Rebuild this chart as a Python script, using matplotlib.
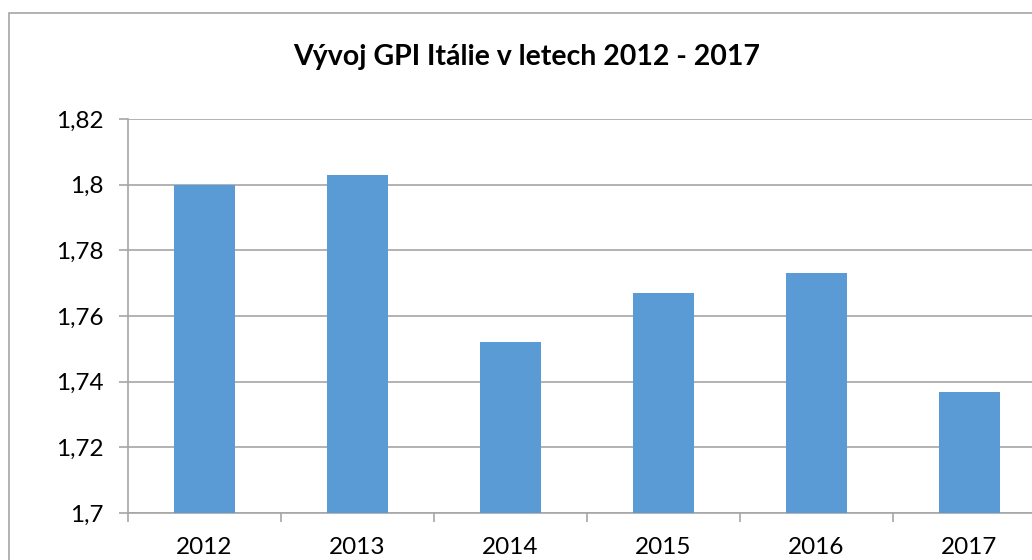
import numpy as np
import matplotlib.pyplot as plt
from matplotlib.patches import Rectangle
from matplotlib.ticker import FuncFormatter

years = ['2012', '2013', '2014', '2015', '2016', '2017']
gpi = [1.800, 1.803, 1.752, 1.767, 1.773, 1.737]

plt.rcParams['font.family'] = ['Lato', 'DejaVu Sans']

fig = plt.figure(figsize=(10.32, 5.6), dpi=100)
# plot area runs past the right edge, like the cropped original
ax = fig.add_axes([128 / 1032, 47 / 560, 918 / 1032, 394 / 560])

x = np.arange(len(years))
ax.bar(x, gpi, width=0.4, color='#5B9BD5', zorder=3)

ax.set_xlim(-0.5, len(years) - 0.5)
ax.set_ylim(1.70, 1.82)
ax.set_yticks(np.arange(1.70, 1.8201, 0.02))
ax.yaxis.set_major_formatter(FuncFormatter(lambda v, p: ('%g' % round(v, 2)).replace('.', ',')))
ax.set_xticks(x)
ax.set_xticklabels(years)
ax.set_xticks(np.arange(-0.5, len(years)), minor=True)

ax.grid(axis='y', color='#A6A6A6', linewidth=1.2, zorder=0)
for s in ['top', 'right']:
    ax.spines[s].set_visible(False)
for s in ['left', 'bottom']:
    ax.spines[s].set_color('#A6A6A6')
    ax.spines[s].set_linewidth(1.2)

ax.tick_params(axis='y', length=6.5, color='#A6A6A6', width=1.2, labelsize=17.5, pad=11)
ax.tick_params(axis='x', which='major', length=0, labelsize=17.5, pad=17)
ax.tick_params(axis='x', which='minor', length=6.5, color='#A6A6A6', width=1.2)

fig.text(527 / 1032, 1 - 57 / 560, 'Vývoj GPI Itálie v letech 2012 - 2017',
         ha='center', va='center', fontsize=20.5, fontweight='bold')

fig.patches.append(Rectangle((9 / 1032, -0.1), 1.1, 1 - 13 / 560 + 0.1,
                             transform=fig.transFigure, fill=False,
                             edgecolor='#A6A6A6', linewidth=1.2))

fig.savefig('out.png', dpi=100)
